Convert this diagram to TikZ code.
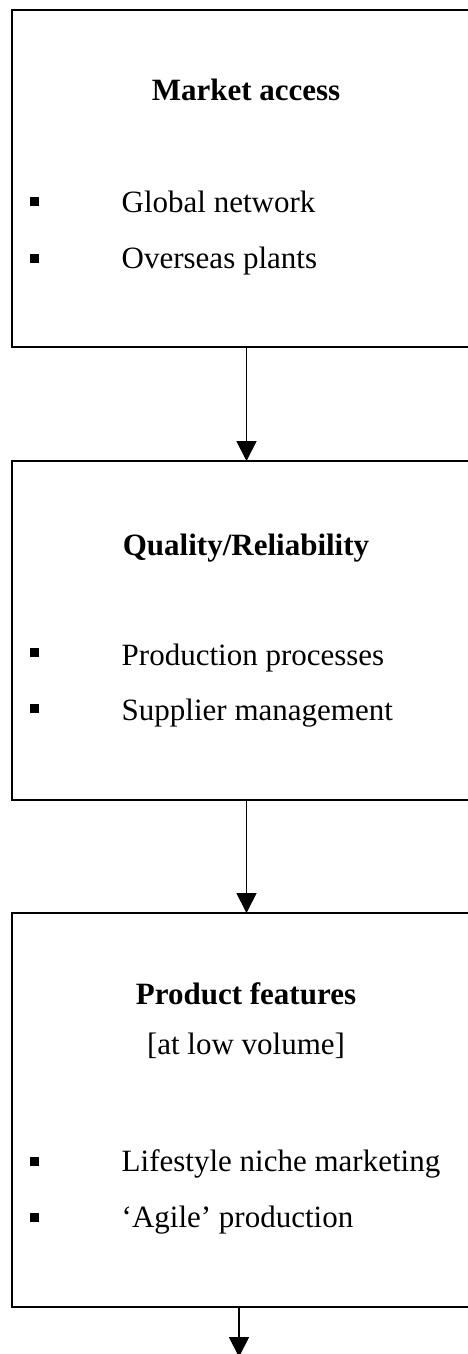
\documentclass[tikz,border=0pt]{standalone}
\usepackage{fontspec}
\setmainfont{Liberation Serif}
\usetikzlibrary{arrows.meta}
\begin{document}
\begin{tikzpicture}[x=1pt,y=-1pt,
  box/.style={draw=black, line width=2.6pt, minimum width=458pt, inner sep=0pt, outer sep=0pt},
  title/.style={anchor=base, inner sep=0pt, font=\fontsize{31}{37}\selectfont\bfseries},
  sub/.style={anchor=base, inner sep=0pt, font=\fontsize{31}{37}\selectfont},
  item/.style={anchor=base west, inner sep=0pt, font=\fontsize{31}{37}\selectfont},
  bullet/.style={fill=black, minimum size=9pt, inner sep=0pt, outer sep=0pt},
  flow/.style={line width=1.8pt, -{Triangle[width=20pt,length=20pt]}}]
\useasboundingbox (0,0) rectangle (468,1354);

% the three boxes (right edges run off the page)
\node[box, minimum height=337pt] (b1) at (241,178.5) {};
\node[box, minimum height=339pt] (b2) at (241,630.5) {};
\node[box, minimum height=394pt] (b3) at (241,1110) {};

% box 1
\node[title] (t1) at (246,100) {Market access};
\node[bullet] (p11) at (34,201.5) {};
\node[item] (i11) at (121.5,212.7) {Global network};
\node[bullet] (p12) at (34,258.5) {};
\node[item] (i12) at (121.5,268.5) {Overseas plants};

% box 2
\node[title] (t2) at (246,555) {Quality/Reliability};
\node[bullet] (p21) at (34,652.5) {};
\node[item] (i21) at (121.5,665) {Production processes};
\node[bullet] (p22) at (34,708.5) {};
\node[item] (i22) at (121.5,720.7) {Supplier management};

% box 3
\node[title] (t3) at (246,1004) {Product features};
\node[sub] (s3) at (246,1054) {[at low volume]};
\node[bullet] (p31) at (34,1161) {};
\node[item] (i31) at (121.5,1171.7) {Lifestyle niche marketing};
\node[bullet] (p32) at (34,1217.5) {};
\node[item] (i32) at (121.5,1227.7) {‘Agile’ production};

% connectors
\coordinate (ax) at (246.5,0);
\coordinate (bx) at (239,0);
\coordinate (out) at (239,1357);
\draw[flow] (b1.south -| ax) -- (b2.north -| ax);
\draw[flow] (b2.south -| ax) -- (b3.north -| ax);
\draw[flow] (b3.south -| bx) -- (out);
\end{tikzpicture}
\end{document}
